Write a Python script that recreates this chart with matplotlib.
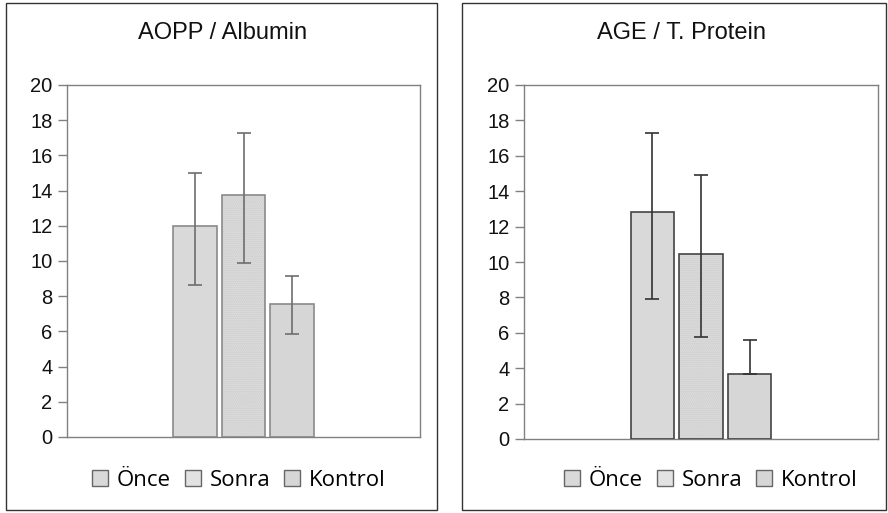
import matplotlib
matplotlib.use("Agg")
import matplotlib.pyplot as plt
from matplotlib.patches import Rectangle, Patch

# Data
groups = ["Önce", "Sonra", "Kontrol"]
titles = ["AOPP / Albumin", "AGE / T. Protein"]

aopp_mean = [12.0, 13.75, 7.55]
aopp_low = [8.65, 9.87, 5.85]
aopp_high = [15.0, 17.25, 9.15]

age_mean = [12.8, 10.43, 3.7]
age_low = [7.93, 5.78, 3.7]
age_high = [17.3, 14.9, 5.59]

yticks = [0, 2, 4, 6, 8, 10, 12, 14, 16, 18, 20]

plt.rcParams['font.family'] = ['Liberation Sans', 'DejaVu Sans']

fig = plt.figure(figsize=(8.88, 5.13), dpi=100)
W, H = 888.0, 513.0

# panel frames
for x0, x1 in [(6, 437), (462, 886)]:
    fig.patches.append(Rectangle((x0 / W, 1 - 510 / H), (x1 - x0) / W, 507 / H,
                                 transform=fig.transFigure, fill=False,
                                 edgecolor='#333333', linewidth=1.0))

faces = ['#d9d9d9', '#e2e2e2', '#d6d6d6']
hatches = [None, '........', None]

panels = [
    (67, 420, 437, titles[0], aopp_mean, aopp_low, aopp_high, '#8a8a8a', '#6e6e6e', 223, 93),
    (524, 878, 439, titles[1], age_mean, age_low, age_high, '#444444', '#333333', 681, 565),
]

for (ax_l, ax_r, ax_b, title, mean, low, high, edge, ecol, tx, legx) in panels:
    ax = fig.add_axes([ax_l / W, 1 - ax_b / H, (ax_r - ax_l) / W, (ax_b - 85) / H])
    xs = [4 - 1.1, 4, 4 + 1.1]
    for i in range(3):
        ax.bar(xs[i], mean[i], width=0.98, color=faces[i], hatch=hatches[i],
               edgecolor='#c8c8c8' if hatches[i] else faces[i], linewidth=0, zorder=2)
        ax.bar(xs[i], mean[i], width=0.98, fill=False, edgecolor=edge,
               linewidth=1.2, zorder=3)
    yerr = [[m - l for m, l in zip(mean, low)], [h - m for m, h in zip(mean, high)]]
    ax.errorbar(xs, mean, yerr=yerr, fmt='none', ecolor=ecol, elinewidth=1.2,
                capsize=5, capthick=1.2, zorder=4)
    ax.set_xlim(0, 8)
    ax.set_ylim(0, 20)
    ax.set_yticks(yticks)
    ax.set_xticks([])
    for s in ax.spines.values():
        s.set_color('#808080')
        s.set_linewidth(1.0)
    ax.tick_params(axis='y', length=6.5, width=1.0, color='#808080', pad=4,
                   labelsize=14.5, labelcolor='#111111')
    fig.text(tx / W, 1 - 33 / H, title, ha='center', va='center', fontsize=17,
             color='#111111')
    handles = [Patch(facecolor=faces[i], edgecolor='#666666', linewidth=1.0)
               for i in range(3)]
    fig.legend(handles, groups, loc='center left',
               bbox_to_anchor=((legx - 21) / W, 1 - 480 / H), ncol=3,
               frameon=False, handlelength=0.72, handleheight=0.72,
               handletextpad=0.4, columnspacing=0.62,
               prop={'family': ['Open Sans', 'DejaVu Sans'], 'size': 16})

fig.savefig("out.png", dpi=100)
